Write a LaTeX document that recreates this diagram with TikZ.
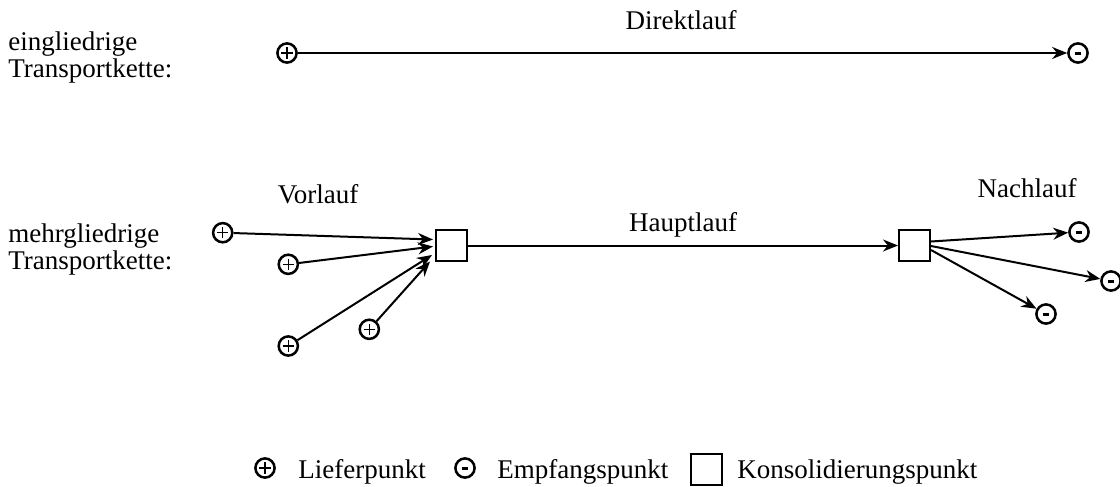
\documentclass[tikz,border=0pt]{standalone}
\usepackage{fontspec}
\setmainfont{Liberation Serif}
\usetikzlibrary{arrows.meta}
\begin{document}
\begin{tikzpicture}[x=0.5pt,y=-0.5pt,
  lbl/.style={font=\fontsize{13.5}{13.5}\selectfont, inner sep=0pt},
  src/.style={circle, draw, line width=1.25pt, minimum size=9.6pt, inner sep=0pt,
    path picture={\draw[line width=0.65pt]
      ([xshift=-2.8pt]path picture bounding box.center) -- ++(5.6pt,0)
      ([yshift=-2.8pt]path picture bounding box.center) -- ++(0,5.6pt);}},
  snk/.style={circle, draw, line width=1.25pt, minimum size=9.6pt, inner sep=0pt,
    path picture={\draw[line width=1.5pt]
      ([xshift=-1.7pt]path picture bounding box.center) -- ++(3.4pt,0);}},
  hub/.style={rectangle, draw, line width=1pt, minimum size=15.5pt, inner sep=0pt},
  flow/.style={line width=1pt, -{Stealth[length=7.5pt,width=6pt]}}
]
\useasboundingbox (0,0) rectangle (1120,487);

% single-leg chain
\node[lbl, anchor=north west, align=left] (one) at (8,31) {eingliedrige\\Transportkette:};
\node[src] (p0) at (287,53) {};
\node[snk] (m0) at (1078,53) {};
\draw[flow] (p0) -- (m0);
\node[lbl, anchor=base] (direkt) at (681,30) {Direktlauf};

% multi-leg chain
\node[lbl, anchor=north west, align=left] (multi) at (8,223) {mehrgliedrige\\Transportkette:};
\node[hub] (hl) at (451.5,245.5) {};
\node[hub] (hr) at (914.5,245.5) {};

\node[src] (p1) at (222.7,232.7) {};
\node[src] (p2) at (288.3,264.3) {};
\node[src] (p3) at (288.3,346) {};
\node[src] (p4) at (369.3,329.3) {};

\node[snk] (m1) at (1079,232) {};
\node[snk] (m2) at (1111,281) {};
\node[snk] (m3) at (1046,314) {};

\draw[flow] (p1) -- ([shift={(-2,-6)}]hl.west);
\draw[flow] (p2) -- ([shift={(-2,1)}]hl.west);
\draw[flow] (p3) -- ([shift={(-3,9.5)}]hl.west);
\draw[flow] (p4) -- ([shift={(-5,16)}]hl.west);

\draw[flow] (hl) -- (hr);

\draw[flow] ([shift={(0,-4)}]hr.east) -- (m1);
\draw[flow] ([shift={(0,0.5)}]hr.east) -- (m2);
\draw[flow] ([shift={(0,4.5)}]hr.east) -- (m3);

\node[lbl, anchor=base] (vor) at (318,203) {Vorlauf};
\node[lbl, anchor=base] (haupt) at (683,231) {Hauptlauf};
\node[lbl, anchor=base] (nach) at (1027,197) {Nachlauf};

% legend
\node[src] (lp) at (265,468) {};
\node[lbl, anchor=base west] (lpt) at (298,478) {Lieferpunkt};
\node[snk] (lm) at (465,468) {};
\node[lbl, anchor=base west] (lmt) at (497,478) {Empfangspunkt};
\node[hub] (lh) at (706.5,469) {};
\node[lbl, anchor=base west] (lht) at (737,478) {Konsolidierungspunkt};
\end{tikzpicture}
\end{document}
